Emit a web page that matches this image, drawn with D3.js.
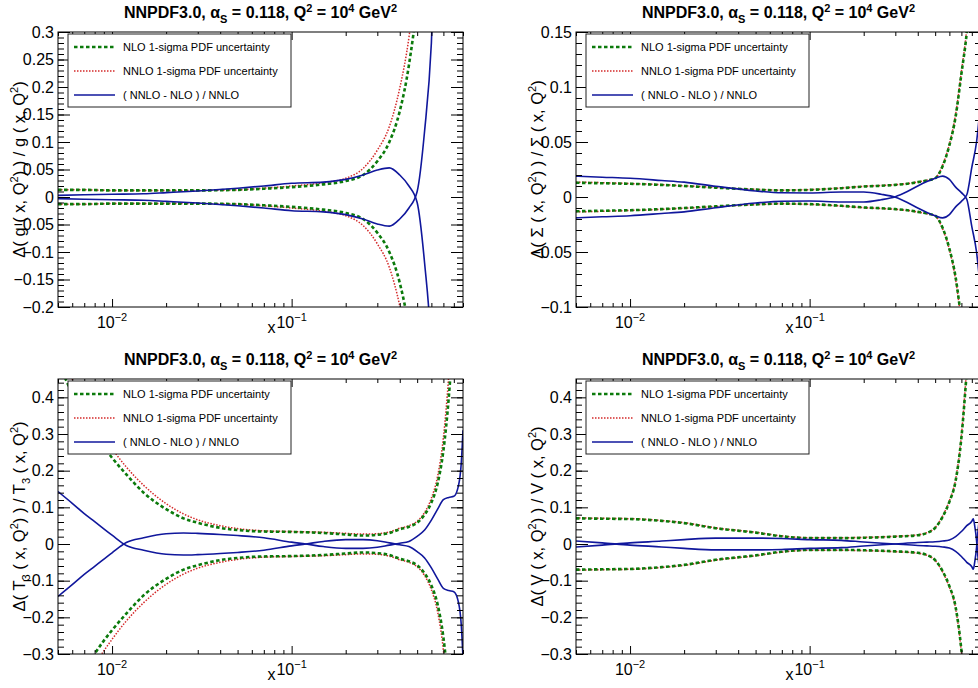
<!DOCTYPE html>
<html><head><meta charset="utf-8">
<script src="https://cdn.jsdelivr.net/npm/d3@7"></script>
<style>
body{margin:0;background:#fff;}
svg{display:block;font-family:"Liberation Sans",Arial,Helvetica,sans-serif;}
text{white-space:pre;}
</style>
</head><body>
<svg id="chart" width="978" height="688"></svg>
<script>
// ---------------- data ----------------
const xDomain = [0.005, 0.9];
const xMajorTicks = [0.01, 0.1];
const xMajorLabels = [["10", "−2"], ["10", "−1"]];
const xMinorTicks = [0.005,0.006,0.007,0.008,0.009,0.02,0.03,0.04,0.05,0.06,0.07,0.08,0.09,0.2,0.3,0.4,0.5,0.6,0.7,0.8,0.9];

// gluon
const gX    = [0.005,0.007,0.01,0.015,0.02,0.03,0.05,0.07,0.1,0.15,0.2,0.25,0.3,0.35,0.4,0.45,0.5,0.55,0.6,0.65,0.7];
const gNLO  = [0.013,0.013,0.012,0.012,0.012,0.012,0.013,0.015,0.018,0.023,0.029,0.040,0.065,0.100,0.156,0.240,0.360,0.550,0.850,1.300,1.800];
const gNNLO = [0.013,0.013,0.012,0.012,0.012,0.012,0.013,0.016,0.020,0.026,0.034,0.052,0.085,0.128,0.198,0.290,0.420,0.650,1.000,1.400,1.900];
const gDiff = [0.003,0.004,0.005,0.006,0.008,0.011,0.016,0.020,0.025,0.027,0.032,0.040,0.049,0.053,0.040,0.020,-0.010,-0.120,-0.280,-0.600,-1.000];
const gYTicks = [-0.2,-0.15,-0.1,-0.05,0,0.05,0.1,0.15,0.2,0.25,0.3];

// singlet
const sX    = [0.005,0.007,0.01,0.015,0.02,0.03,0.05,0.07,0.1,0.15,0.2,0.25,0.3,0.35,0.4,0.45,0.5,0.55,0.6,0.65,0.7,0.75,0.8,0.85,0.9];
const sNLO  = [0.013,0.0125,0.012,0.011,0.010,0.0085,0.0067,0.006,0.0065,0.008,0.0095,0.0102,0.011,0.012,0.0135,0.015,0.017,0.028,0.047,0.073,0.112,0.150,0.210,0.300,0.420];
const sNNLO = [0.0135,0.013,0.0122,0.0112,0.0102,0.0087,0.0069,0.0062,0.0067,0.0082,0.0097,0.0104,0.0112,0.0122,0.0137,0.0152,0.0172,0.029,0.048,0.075,0.114,0.153,0.215,0.310,0.430];
const sDiff = [0.019,0.018,0.017,0.015,0.0135,0.0097,0.0055,0.0038,0.0036,0.0045,0.0045,0.0025,-0.0003,-0.005,-0.010,-0.014,-0.017,-0.019,-0.016,-0.009,-0.004,0.002,0.027,0.050,0.090];
const sYTicks = [-0.1,-0.05,0,0.05,0.1,0.15];

// T3
const tX    = [0.005,0.006,0.007,0.008,0.01,0.012,0.015,0.02,0.025,0.03,0.04,0.05,0.07,0.1,0.12,0.15,0.2,0.25,0.3,0.35,0.4,0.45,0.5,0.55,0.6,0.65,0.7,0.75,0.8,0.85,0.88,0.9];
const tNLO  = [0.50,0.41,0.35,0.30,0.235,0.19,0.14,0.095,0.07,0.058,0.044,0.038,0.034,0.033,0.032,0.030,0.026,0.023,0.025,0.030,0.040,0.047,0.058,0.080,0.113,0.165,0.255,0.40,0.60,0.85,1.05,1.2];
const tNNLO = [0.55,0.45,0.38,0.33,0.26,0.21,0.16,0.11,0.082,0.066,0.050,0.042,0.036,0.034,0.033,0.032,0.029,0.027,0.028,0.033,0.043,0.050,0.062,0.086,0.125,0.185,0.29,0.46,0.68,0.95,1.15,1.3];
const tDiff = [0.143,0.111,0.083,0.061,0.024,-0.004,-0.017,-0.028,-0.030,-0.029,-0.026,-0.023,-0.017,-0.005,0.0,0.007,0.012,0.012,0.009,0.003,-0.002,-0.007,-0.021,-0.038,-0.065,-0.095,-0.121,-0.127,-0.130,-0.160,-0.220,-0.310];
const tYTicks = [-0.3,-0.2,-0.1,0,0.1,0.2,0.3,0.4];

// valence
const vX    = [0.005,0.007,0.01,0.015,0.02,0.03,0.05,0.07,0.1,0.15,0.2,0.3,0.4,0.45,0.5,0.55,0.6,0.65,0.7,0.75,0.8,0.815,0.83,0.85,0.86,0.9];
const vNLO  = [0.070,0.069,0.068,0.063,0.057,0.043,0.031,0.021,0.016,0.016,0.017,0.020,0.024,0.030,0.044,0.074,0.115,0.172,0.290,0.470,0.650,0.720,0.800,0.900,0.950,1.200];
const vNNLO = [0.071,0.070,0.069,0.064,0.058,0.044,0.032,0.022,0.017,0.017,0.018,0.021,0.025,0.031,0.045,0.076,0.118,0.176,0.295,0.480,0.660,0.730,0.810,0.910,0.960,1.210];
const vDiff = [0.008,0.003,-0.003,-0.008,-0.012,-0.016,-0.016,-0.015,-0.012,-0.010,-0.0055,0.0,0.004,0.005,0.006,0.008,0.011,0.020,0.034,0.050,0.062,0.069,0.050,0.010,-0.020,-0.100];
const vYTicks = [-0.3,-0.2,-0.1,0,0.1,0.2,0.3,0.4];

const legendLabels = ["NLO 1-sigma PDF uncertainty", "NNLO 1-sigma PDF uncertainty", "( NNLO - NLO ) / NNLO"];
const titleSegs = [["NNPDF3.0, α",""],["S","sub"],[" = 0.118, Q",""],["2","sup"],[" = 10",""],["4","sup"],[" GeV",""],["2","sup"]];

// ---------------- layout / style ----------------
const colNLO = "#0b7a0b", colNNLO = "#d42a2a", colDiff = "#10179c";
const panels = [
  {left:58,  top:32,  w:405, h:275, yDom:[-0.2,0.3],  yTicks:gYTicks, xs:gX, nlo:gNLO, nnlo:gNNLO, diff:gDiff,
   ylab:[["Δ( g ( x, Q",""],["2","sup"],[") ) / g ( x, Q",""],["2","sup"],[")",""]]},
  {left:576, top:32,  w:405, h:275, yDom:[-0.1,0.15], yTicks:sYTicks, xs:sX, nlo:sNLO, nnlo:sNNLO, diff:sDiff,
   ylab:[["Δ( Σ ( x, Q",""],["2","sup"],[") ) / Σ ( x, Q",""],["2","sup"],[")",""]]},
  {left:58,  top:379, w:405, h:275, yDom:[-0.3,0.45], yTicks:tYTicks, xs:tX, nlo:tNLO, nnlo:tNNLO, diff:tDiff,
   ylab:[["Δ( T",""],["3","sub"],[" ( x, Q",""],["2","sup"],[") ) / T",""],["3","sub"],[" ( x, Q",""],["2","sup"],[")",""]]},
  {left:576, top:379, w:405, h:275, yDom:[-0.3,0.45], yTicks:vYTicks, xs:vX, nlo:vNLO, nnlo:vNNLO, diff:vDiff,
   ylab:[["Δ( V ( x, Q",""],["2","sup"],[") ) / V ( x, Q",""],["2","sup"],[")",""]]}
];

const svg = d3.select("#chart");

function rich(text, segs, o) {
  let off = 0;
  segs.forEach(([t, k]) => {
    const target = k === "sup" ? -o.up : (k === "sub" ? o.down : 0);
    const ts = text.append("tspan").text(t);
    if (target - off !== 0) ts.attr("dy", target - off);
    if (k) ts.attr("font-size", o.size);
    off = target;
  });
}
const fmtY = v => { const s = String(+v.toFixed(3)); return s.replace("-", "−"); };

panels.forEach((p, i) => {
  const g = svg.append("g").attr("transform", `translate(${p.left},${p.top})`);
  const x = d3.scaleLog().domain(xDomain).range([0, p.w]);
  const y = d3.scaleLinear().domain(p.yDom).range([p.h, 0]);
  const step = p.yTicks[1] - p.yTicks[0];
  const yMinor = d3.range(Math.round((p.yDom[1]-p.yDom[0])/(step/5)) + 1).map(k => +(p.yDom[0] + k*step/5).toFixed(4)).filter(v => v <= p.yDom[1] + 1e-9);

  // title
  const tt = svg.append("text").attr("x", p.left + p.w/2).attr("y", p.top - 14)
    .attr("text-anchor", "middle").attr("font-size", 16).attr("font-weight", "bold");
  rich(tt, titleSegs, {up:6, down:5, size:11});

  // clip
  const cid = "clip" + i;
  svg.append("clipPath").attr("id", cid).append("rect").attr("width", p.w).attr("height", p.h);
  const plot = g.append("g").attr("clip-path", `url(#${cid})`);

  const pts = (arr, sgn) => p.xs.map((xv, k) => [xv, sgn * arr[k]]);
  const line = d3.line().x(d => x(d[0])).y(d => y(d[1])).curve(d3.curveMonotoneX);
  [1, -1].forEach(s => {
    plot.append("path").attr("d", line(pts(p.nnlo, s))).attr("fill", "none")
      .attr("stroke", colNNLO).attr("stroke-width", 1.5).attr("stroke-dasharray", "1.5,1.5");
  });
  [1, -1].forEach(s => {
    plot.append("path").attr("d", line(pts(p.nlo, s))).attr("fill", "none")
      .attr("stroke", colNLO).attr("stroke-width", 2.6).attr("stroke-dasharray", "3.5,2.5");
  });
  [1, -1].forEach(s => {
    plot.append("path").attr("d", line(pts(p.diff, s))).attr("fill", "none")
      .attr("stroke", colDiff).attr("stroke-width", 1.6);
  });

  // axes (ticks inside frame)
  const clean = a => { a.select(".domain").remove(); a.selectAll("line").attr("stroke", "#000"); };
  g.append("g").call(d3.axisLeft(y).tickValues(yMinor).tickSize(-6).tickFormat("")).call(clean);
  g.append("g").call(d3.axisLeft(y).tickValues(p.yTicks).tickSize(-12).tickPadding(4).tickFormat(fmtY))
    .call(clean).call(a => a.selectAll("text").attr("font-size", 16).attr("font-family", null).attr("fill", "#000"));
  g.append("g").attr("transform", `translate(${p.w},0)`).call(d3.axisRight(y).tickValues(yMinor).tickSize(-6).tickFormat("")).call(clean);
  g.append("g").attr("transform", `translate(${p.w},0)`).call(d3.axisRight(y).tickValues(p.yTicks).tickSize(-12).tickFormat("")).call(clean);
  g.append("g").attr("transform", `translate(0,${p.h})`).call(d3.axisBottom(x).tickValues(xMinorTicks).tickSize(-4).tickFormat("")).call(clean);
  g.append("g").attr("transform", `translate(0,${p.h})`).call(d3.axisBottom(x).tickValues(xMajorTicks).tickSize(-8).tickFormat("")).call(clean);
  g.append("g").call(d3.axisTop(x).tickValues(xMinorTicks).tickSize(-4).tickFormat("")).call(clean);
  g.append("g").call(d3.axisTop(x).tickValues(xMajorTicks).tickSize(-8).tickFormat("")).call(clean);

  // x tick labels
  xMajorTicks.forEach((t, k) => {
    const lt = g.append("text").attr("x", x(t)).attr("y", p.h + 21).attr("text-anchor", "middle").attr("font-size", 16);
    rich(lt, [[xMajorLabels[k][0], ""], [xMajorLabels[k][1], "sup"]], {up:7, down:0, size:11});
  });
  // x title
  g.append("text").attr("x", p.w/2 + 11).attr("y", p.h + 26).attr("text-anchor", "middle").attr("font-size", 16).text("x");

  // y title
  const yt = g.append("text").attr("transform", `translate(${-33},${p.h/2}) rotate(-90)`)
    .attr("text-anchor", "middle").attr("font-size", 16.5);
  rich(yt, p.ylab, {up:7, down:5, size:11});

  // frame
  g.append("rect").attr("width", p.w).attr("height", p.h).attr("fill", "none").attr("stroke", "#000").attr("stroke-width", 1);

  // legend
  const lg = g.append("g").attr("transform", "translate(10,2)");
  lg.append("rect").attr("width", 223).attr("height", 73).attr("fill", "#fff").attr("stroke", "#222").attr("stroke-width", 1);
  const styles = [
    {c: colNLO, w: 2.6, d: "3.5,2.5"},
    {c: colNNLO, w: 1.5, d: "1.5,1.5"},
    {c: colDiff, w: 1.6, d: null}
  ];
  legendLabels.forEach((lab, k) => {
    const yy = 13 + 24*k;
    const ln = lg.append("line").attr("x1", 6).attr("x2", 47).attr("y1", yy).attr("y2", yy)
      .attr("stroke", styles[k].c).attr("stroke-width", styles[k].w);
    if (styles[k].d) ln.attr("stroke-dasharray", styles[k].d);
    lg.append("text").attr("x", 55).attr("y", yy + 4).attr("font-size", 11).text(lab);
  });
});
</script>
</body></html>
